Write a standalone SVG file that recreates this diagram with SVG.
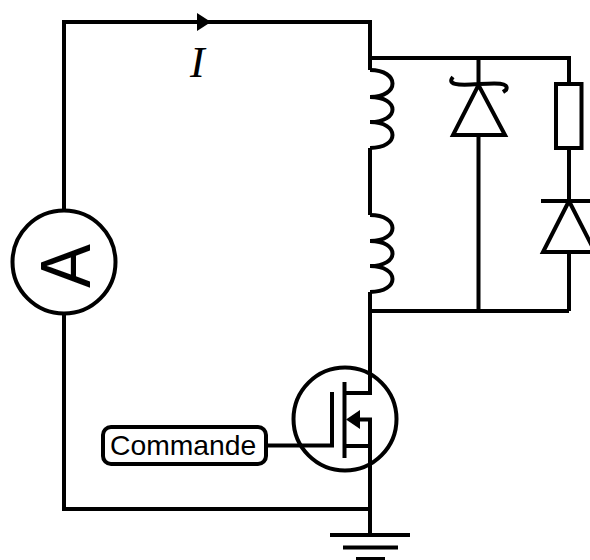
<svg xmlns="http://www.w3.org/2000/svg" width="590" height="560" viewBox="0 0 590 560">
<style>
.w{fill:none;stroke:#000;stroke-width:4;stroke-linejoin:miter}
.b{fill:#fff;stroke:#000;stroke-width:4}
.f{fill:#000;stroke:none}
.t{font-family:"Liberation Sans",Arial,sans-serif;fill:#000}
</style>
<rect width="590" height="560" fill="#fff"/>
<g id="connectors">
<path class="w" d="M64 211V22H370V70M370 148V215M370 292V340M370 58H569V84M478.500 58V85M478.500 135V311M569 148V201M569 252V311M370 311H569M370 340V393H345M345 446H370M360 419.500H370V509M64 313V509H370V535M266 445.500H332V392"/>
</g>
<g id="current-arrow"><path class="f" d="M197 13L211 22L197 31Z"/><text x="190" y="77" style="font-family:'Liberation Serif','Times New Roman',serif;font-style:italic;font-size:44px">I</text></g>
<g id="ammeter"><circle class="b" cx="64" cy="262" r="51.500"/><text class="t" transform="translate(90 266) rotate(-90) scale(0.94 1)" text-anchor="middle" font-size="70">A</text></g>
<g id="inductor1"><path class="w" d="M370 70C400 70 400 97 370 97C400 97 400 122 370 122C400 122 400 148 370 148"/></g>
<g id="inductor2"><path class="w" d="M370 215C400 215 400 241 370 241C400 241 400 266 370 266C400 266 400 292 370 292"/></g>
<g id="tvs-diode"><path class="w" d="M453 135H505L478.500 85ZM453 77C447 84 456 86 478.500 84C495 83 510 82 506 90L503 92"/></g>
<g id="resistor"><rect class="w" x="556" y="84" width="25.500" height="64"/></g>
<g id="diode2"><path class="w" d="M543 252H595L569 201ZM541 201H590"/></g>
<g id="mosfet"><circle class="w" cx="345" cy="419" r="51.500"/><path class="w" d="M344.500 382V458"/><path class="f" d="M346 419.500L360 410V429Z"/></g>
<g id="commande"><rect class="b" x="103" y="427" width="163" height="37" rx="8"/><text class="t" x="110" y="454.500" font-size="28.300">Commande</text></g>
<g id="ground"><path class="w" d="M330 535H410M343 547.500H398M356 559H385"/></g>
</svg>
